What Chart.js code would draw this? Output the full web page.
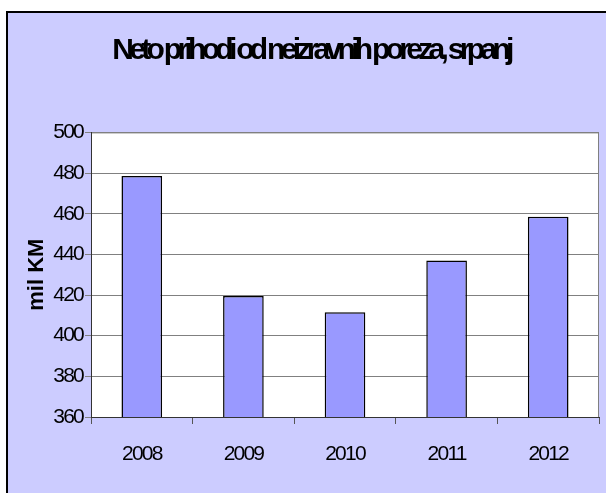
<!DOCTYPE html>
<html>
<head>
<meta charset="utf-8">
<script src="https://cdn.jsdelivr.net/npm/chart.js@4/dist/chart.umd.min.js"></script>
<style>
  html, body { margin: 0; padding: 0; background: #ffffff; }
  #wrap { position: relative; width: 606px; height: 493px; overflow: hidden; }
  #frame { position: absolute; left: 6px; top: 11px; width: 640px; height: 520px;
           background: #CCCCFF; border-top: 2px solid #000; border-left: 2px solid #000; }
  #c { position: absolute; left: 0; top: 0; }
</style>
</head>
<body>
<div id="wrap">
  <div id="frame"></div>
  <canvas id="c" width="606" height="493"></canvas>
</div>
<script>
// ---- data ----
const categories = ['2008', '2009', '2010', '2011', '2012'];
const values = [478.5, 419.5, 411.5, 437, 458.5];
const yTicks = [360, 380, 400, 420, 440, 460, 480, 500];
const chartTitle = 'Neto prihodi od neizravnih poreza, srpanj';
const yAxisTitle = 'mil KM';

// condensed rendering of tick labels and title (like the original)
const origDrawLabels = Chart.Scale.prototype.drawLabels;
Chart.Scale.prototype.drawLabels = function (area) {
  const ctx = this.ctx;
  ctx.save();
  ctx.letterSpacing = '-1.8px';
  origDrawLabels.call(this, area);
  ctx.restore();
};

const styling = {
  id: 'styling',
  beforeDraw(chart) {
    const tb = chart.titleBlock;
    if (tb && !tb._patched) {
      const od = tb.draw;
      tb.draw = function () {
        const ctx = chart.ctx;
        ctx.save();
        ctx.letterSpacing = '-4.7px';
        od.apply(this, arguments);
        ctx.restore();
      };
      tb._patched = true;
    }
    const { ctx, chartArea: a } = chart;
    ctx.save();
    ctx.fillStyle = '#ffffff';
    ctx.fillRect(a.left, a.top, a.right - a.left, a.bottom - a.top);
    ctx.strokeStyle = '#808080';
    ctx.lineWidth = 1;
    ctx.strokeRect(a.left + 0.5, a.top + 0.5, a.right - a.left - 1, a.bottom - a.top);
    ctx.restore();
  }
};

new Chart(document.getElementById('c'), {
  type: 'bar',
  data: {
    labels: categories,
    datasets: [{
      data: values,
      backgroundColor: '#9999FF',
      borderColor: '#000000',
      borderWidth: 1.5,
      categoryPercentage: 1,
      barPercentage: 0.4
    }]
  },
  options: {
    responsive: false,
    animation: false,
    layout: { padding: { left: 23, right: 7, top: 0, bottom: 0 } },
    plugins: {
      legend: { display: false },
      tooltip: { enabled: false },
      title: {
        display: true,
        text: chartTitle,
        color: '#000000',
        font: { family: 'Arial, "Liberation Sans", sans-serif', size: 30, weight: 'bold' },
        padding: { top: 33, bottom: 63.4 }
      }
    },
    scales: {
      x: {
        afterFit(scale) { scale.height = 76; },
        grid: { display: true, drawOnChartArea: false, drawTicks: true, tickLength: 7, color: '#555555' },
        border: { display: true, color: '#333333', width: 1 },
        ticks: {
          color: '#000000',
          padding: 18,
          maxRotation: 0,
          font: { family: 'Arial, "Liberation Sans", sans-serif', size: 21 }
        }
      },
      y: {
        min: yTicks[0],
        max: yTicks[yTicks.length - 1],
        afterFit(scale) { scale.width = 68; },
        afterBuildTicks(scale) { scale.ticks = yTicks.map(v => ({ value: v })); },
        grid: { color: '#808080', lineWidth: 1, tickLength: 6, drawTicks: true },
        border: { display: true, color: '#333333', width: 1 },
        ticks: {
          color: '#000000',
          padding: 2,
          font: { family: 'Arial, "Liberation Sans", sans-serif', size: 21 }
        },
        title: {
          display: true,
          text: yAxisTitle,
          color: '#000000',
          padding: { top: 1, bottom: 0 },
          font: { family: 'Arial, "Liberation Sans", sans-serif', size: 22, weight: 'bold' }
        }
      }
    }
  },
  plugins: [styling]
});
</script>
</body>
</html>
